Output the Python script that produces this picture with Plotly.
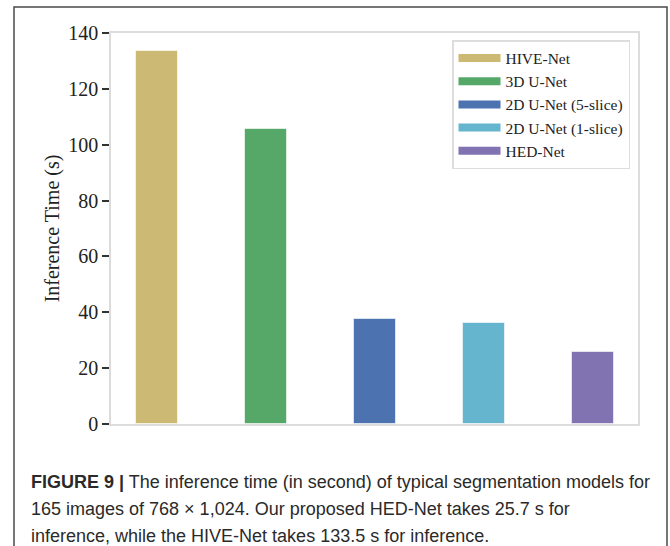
import plotly.graph_objects as go

# Inference time (s) for 165 images of 768 x 1,024
models = ["HIVE-Net", "3D U-Net", "2D U-Net (5-slice)", "2D U-Net (1-slice)", "HED-Net"]
times = [133.5, 105.5, 37.6, 36.3, 25.7]
colors = ["#CCB974", "#55A868", "#4C72B0", "#64B5CD", "#8172B2"]
y_ticks = [0, 20, 40, 60, 80, 100, 120, 140]

caption_lines = [
    "<b>FIGURE 9 |</b> The inference time (in second) of typical segmentation models for",
    "165 images of 768 × 1,024. Our proposed HED-Net takes 25.7 s for",
    "inference, while the HIVE-Net takes 133.5 s for inference.",
]

serif = "Liberation Serif, Times New Roman, serif"
sans = "Liberation Sans, Arial, sans-serif"

fig = go.Figure()

fig.add_trace(go.Bar(
    x=list(range(len(models))),
    y=times,
    width=0.385,
    marker=dict(color=colors, line=dict(color="rgba(255,255,255,0.6)", width=1)),
    showlegend=False,
    hoverinfo="y",
))

# Legend entries drawn as thick line swatches
for name, c in zip(models, colors):
    fig.add_trace(go.Scatter(
        x=[None], y=[None], mode="lines", name=name,
        line=dict(color=c, width=8),
    ))

W, H = 670, 546
L, R, T, B = 111, 32, 33, 122
pw, ph = W - L - R, H - T - B

def px_x(x):
    return (x - L) / pw

def px_y(y):
    return (H - B - y) / ph

shapes = [
    # outer figure frame
    dict(type="rect", xref="paper", yref="paper",
         x0=px_x(14), x1=px_x(667), y0=px_y(560), y1=px_y(7),
         line=dict(color="#4a4a4a", width=1.5), fillcolor="rgba(0,0,0,0)", layer="below"),
]

annotations = []
for txt, yc in zip(caption_lines, [482, 509, 536]):
    annotations.append(dict(
        text=txt, xref="paper", yref="paper",
        x=px_x(29), y=px_y(yc), xanchor="left", yanchor="middle",
        showarrow=False, font=dict(family=sans, size=18, color="#2a2a2a"),
    ))

fig.update_layout(
    width=W, height=H,
    margin=dict(l=L, r=R, t=T, b=B, pad=0),
    paper_bgcolor="white", plot_bgcolor="white",
    bargap=0,
    shapes=shapes,
    annotations=annotations,
    xaxis=dict(
        range=[-0.42, 4.41], showticklabels=False, ticks="", showgrid=False,
        zeroline=False, showline=True, linecolor="#dcdcdc", linewidth=1.5, mirror=True,
    ),
    yaxis=dict(
        range=[0, 140], tickvals=y_ticks, ticks="outside", ticklen=7, tickwidth=1.5,
        tickcolor="#333333", showgrid=False, zeroline=False,
        showline=True, linecolor="#dcdcdc", linewidth=1.5, mirror=True,
        tickfont=dict(family=serif, size=20, color="#222222"),
        title=dict(text="Inference Time (s)", font=dict(family=serif, size=20, color="#222222"),
                   standoff=3),
    ),
    legend=dict(
        x=px_x(630), y=px_y(40), xanchor="right", yanchor="top",
        bgcolor="white", bordercolor="#dddddd", borderwidth=1.5,
        font=dict(family=serif, size=15.5, color="#222222"),
        itemwidth=42,
    ),
)

fig.write_html("out.html")
